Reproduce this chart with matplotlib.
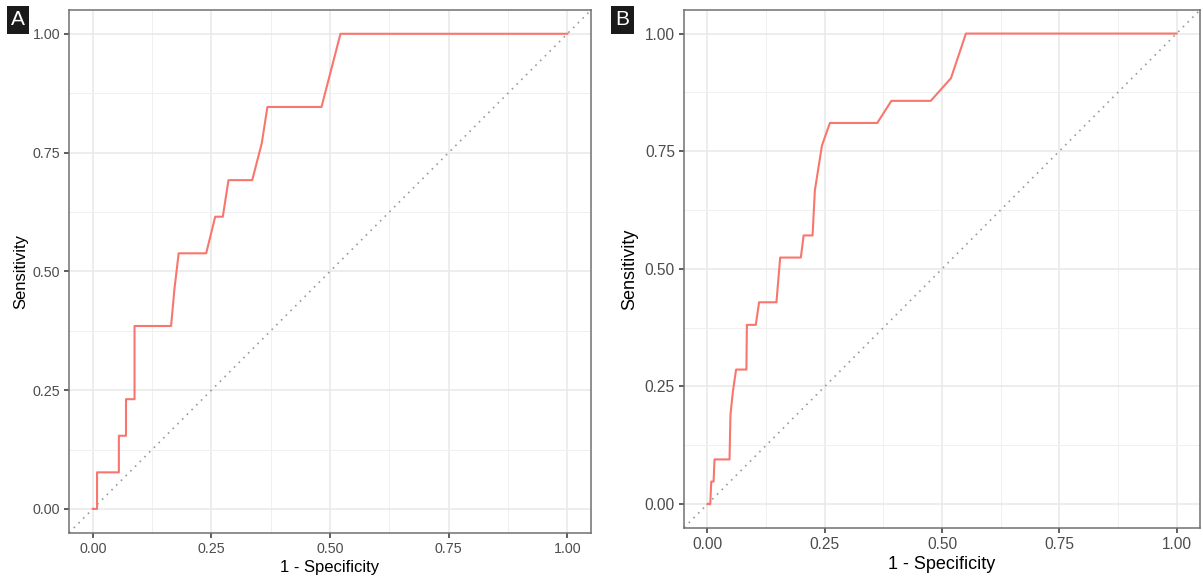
import matplotlib
matplotlib.use('Agg')
import matplotlib.pyplot as plt
import numpy as np

plt.rcParams['font.family'] = ['Liberation Sans', 'DejaVu Sans']

# ROC curve A (13 positives)
fpr_a = [0.0, 0.009, 0.009, 0.055, 0.055, 0.070, 0.070, 0.088, 0.088, 0.165, 0.172, 0.181,
         0.239, 0.258, 0.274, 0.286, 0.336, 0.356, 0.368, 0.482, 0.522, 1.0]
tpr_a = [0.0, 0.0, 0.077, 0.077, 0.154, 0.154, 0.231, 0.231, 0.385, 0.385, 0.462, 0.538,
         0.538, 0.615, 0.615, 0.692, 0.692, 0.769, 0.846, 0.846, 1.0, 1.0]

# ROC curve B (21 positives)
fpr_b = [0.0, 0.006, 0.008, 0.013, 0.015, 0.047, 0.048, 0.049, 0.054, 0.061, 0.083, 0.084,
         0.103, 0.110, 0.147, 0.155, 0.199, 0.205, 0.224, 0.229, 0.244, 0.261, 0.362, 0.392,
         0.476, 0.519, 0.551, 1.0]
tpr_b = [0.0, 0.0, 0.048, 0.048, 0.095, 0.095, 0.143, 0.190, 0.238, 0.286, 0.286, 0.381,
         0.381, 0.429, 0.429, 0.524, 0.524, 0.571, 0.571, 0.667, 0.762, 0.810, 0.810, 0.857,
         0.857, 0.905, 1.0, 1.0]

ticks = [0.0, 0.25, 0.5, 0.75, 1.0]
tick_labels = ['0.00', '0.25', '0.50', '0.75', '1.00']
minor_ticks = [0.125, 0.375, 0.625, 0.875]

fig = plt.figure(figsize=(12.03, 5.76), dpi=100)


def draw_panel(rect, fpr, tpr, letter, letter_pos, tick_size, label_size, ypad):
    ax = fig.add_axes(rect)
    ax.set_xlim(-0.05, 1.05)
    ax.set_ylim(-0.05, 1.05)
    ax.set_xticks(ticks)
    ax.set_yticks(ticks)
    ax.set_xticklabels(tick_labels)
    ax.set_yticklabels(tick_labels)
    ax.set_xticks(minor_ticks, minor=True)
    ax.set_yticks(minor_ticks, minor=True)
    ax.grid(which='major', color='#e8e8e8', lw=1.1)
    ax.grid(which='minor', color='#f0f0f0', lw=0.7)
    ax.tick_params(which='minor', length=0)
    ax.tick_params(which='major', length=3.5, width=1.1, color='#333333',
                   labelcolor='#4d4d4d', labelsize=tick_size, pad=3)
    ax.set_axisbelow(True)
    for s in ax.spines.values():
        s.set_color('#707070')
        s.set_linewidth(1.1)
    ax.plot([-0.05, 1.05], [-0.05, 1.05], color='#9a9a9a', lw=1.2,
            linestyle=(0, (1, 3)), zorder=2)
    ax.plot(fpr, tpr, color='#F8766D', lw=1.5, zorder=3)
    ax.set_xlabel('1 - Specificity', fontsize=label_size, color='black', labelpad=3)
    ax.set_ylabel('Sensitivity', fontsize=label_size, color='black', labelpad=ypad)
    fig.text(letter_pos[0], letter_pos[1], letter, color='white', fontsize=15,
             ha='left', va='top',
             bbox=dict(boxstyle='square,pad=0.2', fc='#1a1a1a', ec='none'))
    return ax


draw_panel([0.0574, 0.0752, 0.4339, 0.9074], fpr_a, tpr_a, 'A', (0.0095, 0.982), 10.3, 12, 3)
draw_panel([0.5686, 0.0839, 0.4289, 0.8987], fpr_b, tpr_b, 'B', (0.5115, 0.982), 11.2, 13, 5)

fig.savefig('out.png', dpi=100)
